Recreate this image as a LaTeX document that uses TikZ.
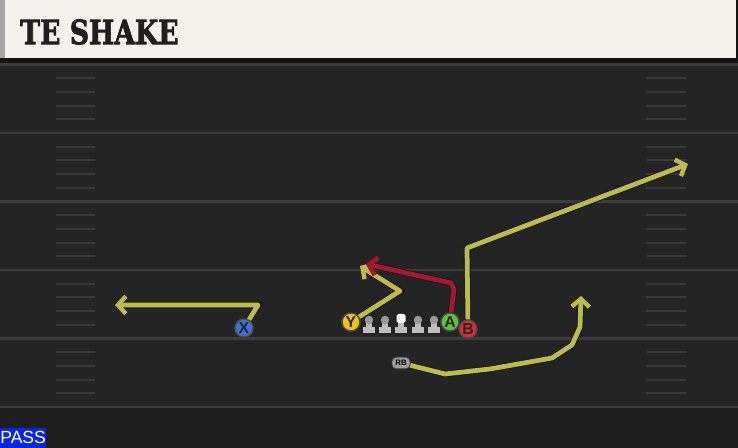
\documentclass[tikz,border=0pt]{standalone}
\usepackage{fontspec}
\usepackage{tikz}
\usetikzlibrary{arrows.meta}
\setsansfont{Liberation Sans}
\newfontfamily\playtitle{DejaVu Serif}[BoldFeatures={FakeBold=2.5}]
\definecolor{fieldbg}{HTML}{242424}
\definecolor{yardln}{HTML}{3C3C3C}
\definecolor{hashln}{HTML}{383838}
\definecolor{titlebg}{HTML}{F4F2EC}
\definecolor{routeyel}{HTML}{BDBB50}
\definecolor{routered}{HTML}{A3192E}
\definecolor{xblue}{HTML}{3C72D6}
\definecolor{yyel}{HTML}{F2C21B}
\definecolor{agreen}{HTML}{5DC33A}
\definecolor{bred}{HTML}{DA2B3C}
\definecolor{linegray}{HTML}{BDBDBD}
\definecolor{passblue}{HTML}{0B26E0}
\begin{document}
\begin{tikzpicture}[x=0.02cm,y=-0.02cm,
	route/.style={line width=2.7pt, draw=routeyel, line join=round,
		-{Straight Barb[length=4.5pt,width=10pt,line width=2.5pt]},
		preaction={draw=black!90, line width=3.8pt}},
	player/.style={circle, draw=black!70, line width=0.8pt, minimum size=0.36cm,
		inner sep=0pt, font=\sffamily\bfseries\fontsize{9}{9}\selectfont, text=black!85},
	olman/.pic={
		\fill[linegray] (-6,7) rectangle (6,13);
		\fill[linegray] (-3.3,0) rectangle (3.3,8);
		\fill[gray!80] (0,0) circle (4.2);
	},
	center/.pic={
		\fill[linegray] (-6,7) rectangle (6,13);
		\fill[linegray] (-3.3,0) rectangle (3.3,8);
		\fill[white, rounded corners=1pt] (-4.5,-6) rectangle (4.5,3);
	}]
	\useasboundingbox (0,0) rectangle (738,448);
	\fill[fieldbg] (0,0) rectangle (738,448);
	\fill[black!88] (0,407) rectangle (738,448);
	% yard lines and hashes
	\foreach \yl in {64.5,133,201.5,270,338.5,407}
		\draw[yardln, line width=1.3pt] (0,\yl) -- (738,\yl);
	\foreach \yl in {64.5,133,201.5,270,338.5}
		\foreach \k in {1,...,4} {
			\draw[hashln, line width=1.1pt] (56,\yl+13.7*\k) -- (95,\yl+13.7*\k);
			\draw[hashln, line width=1.1pt] (646,\yl+13.7*\k) -- (686,\yl+13.7*\k);
		}
	% title bar
	\fill[black!92] (0,0) rectangle (738,63);
	\fill[titlebg] (0,0) rectangle (736,58);
	\fill[gray!70] (0,0) rectangle (5,58);
	\node[anchor=west, font=\playtitle\bfseries\fontsize{19}{19}\selectfont, text=black!88,
		inner sep=0pt, xscale=0.8, transform shape] (title) at (20,32) {TE SHAKE};
	% line
	\pic at (369,320) {olman};
	\pic at (385,320) {olman};
	\pic at (401,320) {center};
	\pic at (418,320) {olman};
	\pic at (434,320) {olman};
	\node[player, fill=xblue] (X) at (244,328) {X};
	\node[player, fill=yyel] (Y) at (351,322) {Y};
	\node[player, fill=agreen] (A) at (450,322) {A};
	\node[player, fill=bred] (B) at (468,329) {B};
	\node[fill=gray!75, draw=black!70, rounded corners=2.5pt, inner sep=1pt,
		minimum width=0.36cm, minimum height=0.23cm,
		font=\sffamily\bfseries\fontsize{4.5}{4.5}\selectfont] (RB) at (401,363) {RB};
	% routes
	\draw[route] (X) -- (258,305) -- (115,305);
	\draw[route] (Y) -- (400,291) -- (360,266);
	\draw[route, draw=routered] (A) -- (454,289) -- (451,283) -- (366,264);
	\draw[route] (B) -- (467,248) -- (688,164);
	\draw[route] (RB) -- (445,374) -- (490,369) -- (552,358) -- (572,345)
		-- (580,327) -- (581,296);
	% tag
	\node[fill=passblue, anchor=south west, minimum width=0.9cm, minimum height=0.4cm,
		inner sep=0pt, text=white, font=\sffamily\fontsize{10}{10}\selectfont] (pass) at (0,448) {PASS};
\end{tikzpicture}
\end{document}
